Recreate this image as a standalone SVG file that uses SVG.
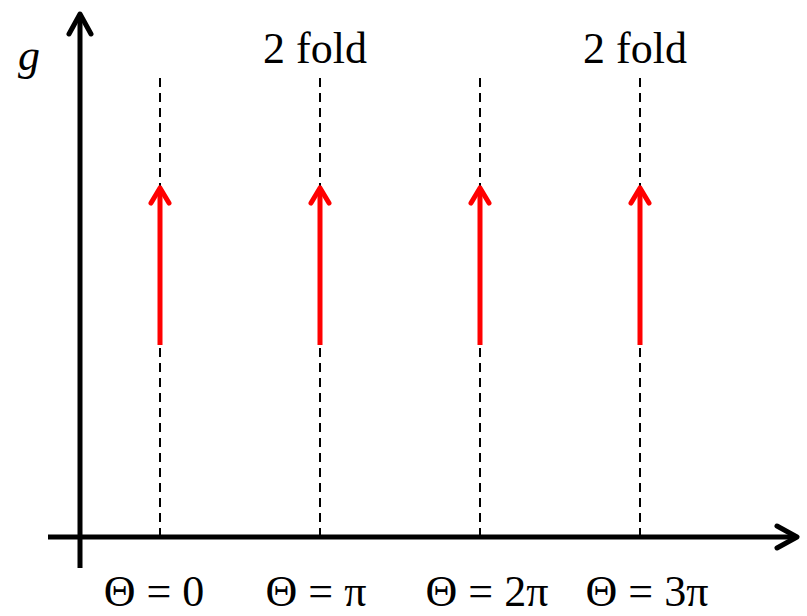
<svg xmlns="http://www.w3.org/2000/svg" width="807" height="616" viewBox="0 0 807 616">
<style>
.dash{stroke:#000;stroke-width:2;stroke-dasharray:9,6;fill:none}
.red{stroke:#f00;stroke-width:5;fill:none;stroke-linecap:round;stroke-linejoin:round}
.ax{stroke:#000;stroke-width:5;fill:none;stroke-linecap:round;stroke-linejoin:round}
</style>
<rect width="807" height="616" fill="#fff"/>
<g id="axes">
<line class="ax" x1="80" y1="568" x2="80" y2="14" style="stroke-linecap:butt"/>
<polyline class="ax" points="69,34 80,14 91,34"/>
<line class="ax" x1="48" y1="537" x2="796" y2="537" style="stroke-linecap:butt"/>
<polyline class="ax" points="777,526 797,537 777,548"/>
<text x="18" y="70" font-family="'Liberation Serif', serif" font-size="44" font-style="italic">g</text>
</g>
<g id="connectors">
<line class="dash" x1="160" y1="78" x2="160" y2="537"/>
<line class="dash" x1="320" y1="78" x2="320" y2="537"/>
<line class="dash" x1="480" y1="78" x2="480" y2="537"/>
<line class="dash" x1="640" y1="78" x2="640" y2="537"/>
</g>
<g id="arrow0"><line class="red" x1="160" y1="345" x2="160" y2="188" style="stroke-linecap:butt"/><polyline class="red" points="151,203 160,188 169,203"/></g>
<g id="arrow1"><line class="red" x1="320" y1="345" x2="320" y2="188" style="stroke-linecap:butt"/><polyline class="red" points="311,203 320,188 329,203"/></g>
<g id="arrow2"><line class="red" x1="480" y1="345" x2="480" y2="188" style="stroke-linecap:butt"/><polyline class="red" points="471,203 480,188 489,203"/></g>
<g id="arrow3"><line class="red" x1="640" y1="345" x2="640" y2="188" style="stroke-linecap:butt"/><polyline class="red" points="631,203 640,188 649,203"/></g>
<g id="fold1"><text x="315" y="63" font-family="'Liberation Serif', serif" font-size="44" text-anchor="middle">2 fold</text></g>
<g id="fold2"><text x="635" y="63" font-family="'Liberation Serif', serif" font-size="44" text-anchor="middle">2 fold</text></g>
<g id="label0"><text x="154" y="606" font-family="'Liberation Serif', serif" font-size="44" text-anchor="middle">Θ = 0</text></g>
<g id="label1"><text x="316" y="606" font-family="'Liberation Serif', serif" font-size="44" text-anchor="middle">Θ = π</text></g>
<g id="label2"><text x="487" y="606" font-family="'Liberation Serif', serif" font-size="44" text-anchor="middle">Θ = 2π</text></g>
<g id="label3"><text x="647" y="606" font-family="'Liberation Serif', serif" font-size="44" text-anchor="middle">Θ = 3π</text></g>
</svg>
